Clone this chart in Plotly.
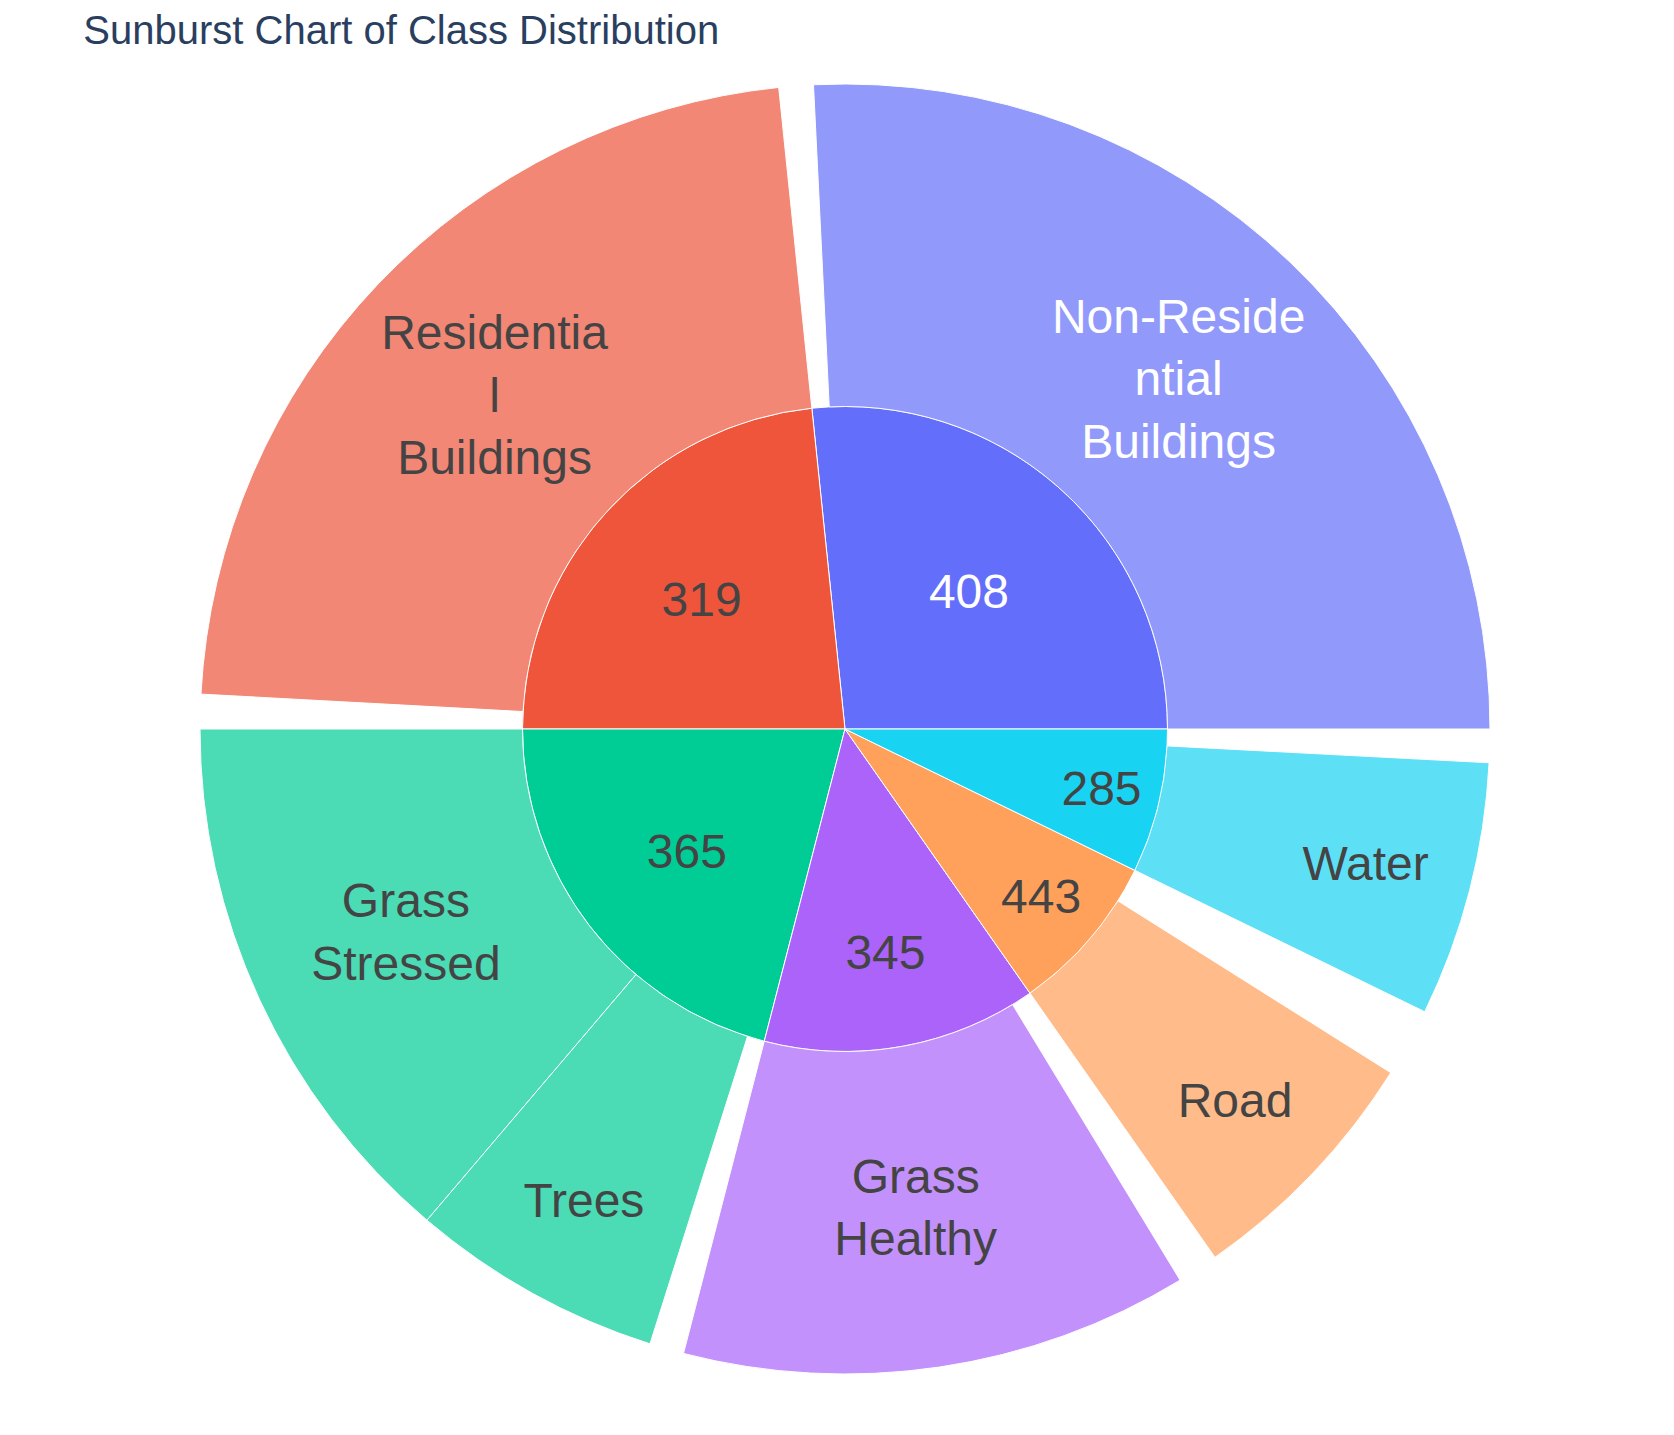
import textwrap
import plotly.graph_objects as go

# inner ring: group codes, with the part of each group not covered by a class
group_ids = ["408", "319", "365", "345", "443", "285"]
group_rest = [31, 31, 31, 37, 62, 30]

# outer ring: classes and their counts
class_names = ["Non-Residential Buildings", "Residential Buildings", "Grass Stressed",
               "Trees", "Grass Healthy", "Road", "Water"]
class_group = ["408", "319", "365", "365", "345", "443", "285"]
class_counts = [928, 810, 496, 228, 458, 228, 230]

# wrap long names every 10 characters like the original labels
wrapped = ["<br>".join(textwrap.wrap(n, 10)) for n in class_names]

fig = go.Figure(go.Sunburst(
    ids=group_ids + class_names,
    labels=group_ids + wrapped,
    parents=[""] * len(group_ids) + class_group,
    values=group_rest + class_counts,
    branchvalues="remainder",
    insidetextorientation="horizontal",
    textfont=dict(size=48),
))

fig.update_layout(
    title=dict(text="Sunburst Chart of Class Distribution", x=0.045, xanchor="left",
               y=1 - 22 / 1435, yanchor="middle", font=dict(size=40)),
    font=dict(family="Liberation Sans, Arial, sans-serif"),
    width=1674, height=1435,
    margin=dict(t=76, b=69, l=80, r=80),
    template="plotly_white",
)

fig.write_html("out.html")
